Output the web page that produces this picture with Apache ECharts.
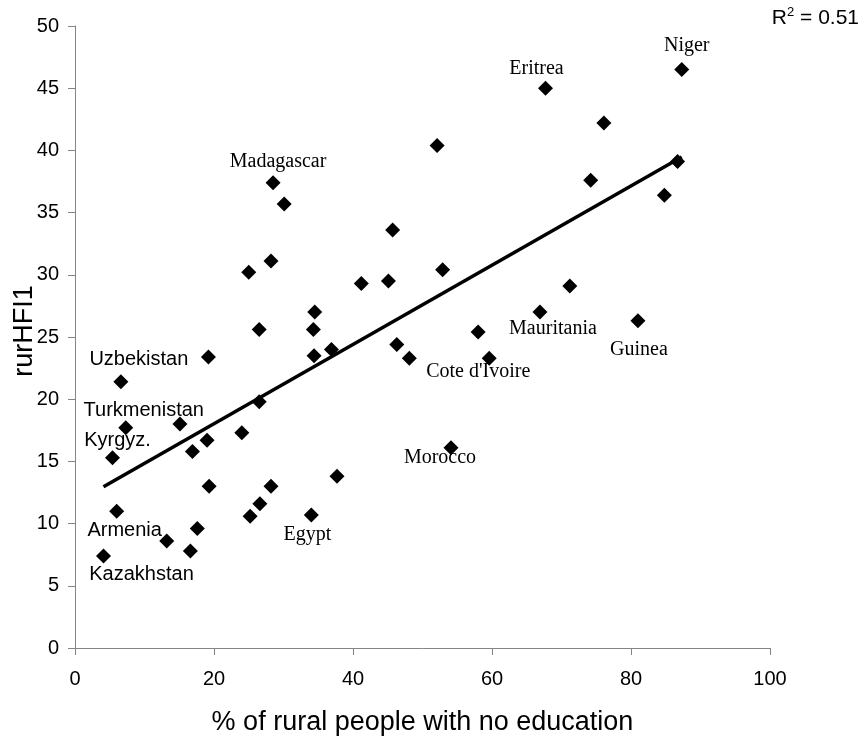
<!DOCTYPE html>
<html>
<head>
<meta charset="utf-8">
<script src="https://cdn.jsdelivr.net/npm/echarts@6/dist/echarts.min.js"></script>
<style>
  html, body { margin: 0; padding: 0; background: #fff; }
  #main { width: 864px; height: 736px; }
</style>
</head>
<body>
<div id="main"></div>
<script>
// % of rural people with no education
var eduPct = [87.3, 67.7, 76.1, 52.1, 28.5, 30.1, 74.2, 45.7, 86.7, 84.8,
              25.0, 28.2, 41.2, 34.5, 26.5, 34.3, 19.2, 34.4, 36.9, 6.6,
              26.5, 7.3, 15.1, 19.0, 24.0, 16.9, 5.4, 37.7, 45.1, 52.9,
              71.2, 66.9, 81.0, 58.0, 46.3, 48.1, 59.6, 54.1, 19.3, 28.2,
              6.0, 26.6, 25.2, 34.0, 17.6, 13.2, 16.6, 4.1];
// rurHFI1
var hfi = [46.5, 45.0, 42.2, 40.4, 37.4, 35.7, 37.6, 33.6, 39.1, 36.4,
           30.2, 31.1, 29.3, 27.0, 25.6, 25.6, 23.4, 23.5, 24.0, 21.4,
           19.8, 17.7, 18.0, 16.7, 17.3, 15.8, 15.3, 13.8, 29.5, 30.4,
           29.1, 27.0, 26.3, 25.4, 24.4, 23.3, 23.3, 16.1, 13.0, 13.0,
           11.0, 11.6, 10.6, 10.7, 9.6, 8.6, 7.8, 7.4];
var countries = ['Niger', 'Eritrea', '', '', 'Madagascar', '', '', '', '', '',
                 '', '', '', '', '', '', '', '', '', 'Uzbekistan',
                 '', 'Turkmenistan', '', '', '', '', 'Kyrgyz.', '', '', '',
                 '', 'Mauritania', 'Guinea', '', '', '', "Cote d'Ivoire", 'Morocco', '', '',
                 'Armenia', '', '', 'Egypt', '', '', '', 'Kazakhstan'];
var xTicks = [0, 20, 40, 60, 80, 100];
var yTicks = [0, 5, 10, 15, 20, 25, 30, 35, 40, 45, 50];

// label placement (offset from the marker) and font
var labelPos = {
    'Niger': [5, -24, 'serif'],
    'Eritrea': [-9, -19, 'serif'],
    'Madagascar': [5, -21, 'serif'],
    'Uzbekistan': [18, -22, 'sans'],
    'Turkmenistan': [18, -17, 'sans'],
    'Kyrgyz.': [5, -17, 'sans'],
    'Armenia': [8, 19, 'sans'],
    'Kazakhstan': [38, 19, 'sans'],
    'Egypt': [-4, 20, 'serif'],
    'Morocco': [-11, 10, 'serif'],
    "Cote d'Ivoire": [-11, 14, 'serif'],
    'Mauritania': [13, 17, 'serif'],
    'Guinea': [1, 29, 'serif']
};

var points = eduPct.map(function (x, i) {
    var item = { value: [x, hfi[i]] };
    var name = countries[i];
    if (name) {
        var p = labelPos[name];
        item.label = {
            show: true,
            formatter: name,
            position: 'inside',
            offset: [p[0], p[1]],
            color: '#000',
            fontSize: 20,
            fontFamily: p[2] == 'serif' ? '"Liberation Serif", "Times New Roman", serif' : '"Liberation Sans", Arial, sans-serif'
        };
    }
    return item;
});

// linear trend line (least squares)
var n = eduPct.length, sx = 0, sy = 0, sxx = 0, sxy = 0;
for (var i = 0; i < n; i++) {
    sx += eduPct[i]; sy += hfi[i];
    sxx += eduPct[i] * eduPct[i]; sxy += eduPct[i] * hfi[i];
}
var slope = (n * sxy - sx * sy) / (n * sxx - sx * sx);
var icpt = (sy - slope * sx) / n;
var xMin = Math.min.apply(null, eduPct), xMax = Math.max.apply(null, eduPct);
var trend = [[xMin, icpt + slope * xMin], [xMax, icpt + slope * xMax]];

var sans = '"Liberation Sans", Arial, sans-serif';
var axisGray = '#858585';

var myChart = echarts.init(document.getElementById('main'));
myChart.setOption({
    animation: false,
    grid: { left: 75, right: 94, top: 26, bottom: 88, containLabel: false, outerBoundsMode: 'none' },
    xAxis: {
        type: 'value',
        min: xTicks[0], max: xTicks[xTicks.length - 1], interval: 20,
        name: '% of rural people with no education',
        nameLocation: 'middle',
        nameGap: 61,
        nameMoveOverlap: false,
        nameTextStyle: { fontSize: 27, fontFamily: sans, color: '#000' },
        axisLine: { show: true, lineStyle: { color: axisGray, width: 1 } },
        axisTick: { show: true, inside: false, length: 7, lineStyle: { color: axisGray } },
        axisLabel: { fontSize: 20, fontFamily: sans, color: '#000', margin: 21 },
        splitLine: { show: false }
    },
    yAxis: {
        type: 'value',
        min: yTicks[0], max: yTicks[yTicks.length - 1], interval: 5,
        name: 'rurHFI1',
        nameLocation: 'middle',
        nameGap: 37,
        nameMoveOverlap: false,
        nameTextStyle: { fontSize: 27, fontFamily: sans, color: '#000', padding: [0, 0, 0, 12] },
        axisLine: { show: true, lineStyle: { color: axisGray, width: 1 } },
        axisTick: { show: true, inside: false, length: 7, lineStyle: { color: axisGray } },
        axisLabel: { fontSize: 20, fontFamily: sans, color: '#000', margin: 16 },
        splitLine: { show: false }
    },
    series: [{
        type: 'line',
        data: trend,
        symbol: 'none',
        lineStyle: { color: '#000', width: 3.5 },
        z: 2
    }, {
        type: 'scatter',
        data: points,
        symbol: 'diamond',
        symbolSize: 15,
        itemStyle: { color: '#000', opacity: 1 },
        z: 3
    }],
    graphic: [{
        type: 'text',
        right: 5,
        top: 6,
        style: {
            text: '{r|R}{s|2}{r| = 0.51}',
            rich: {
                r: { fontSize: 21, fontFamily: sans, fill: '#000', verticalAlign: 'bottom' },
                s: { fontSize: 13, fontFamily: sans, fill: '#000', verticalAlign: 'top', padding: [0, 0, 10, 0] }
            }
        }
    }]
});
</script>
</body>
</html>
